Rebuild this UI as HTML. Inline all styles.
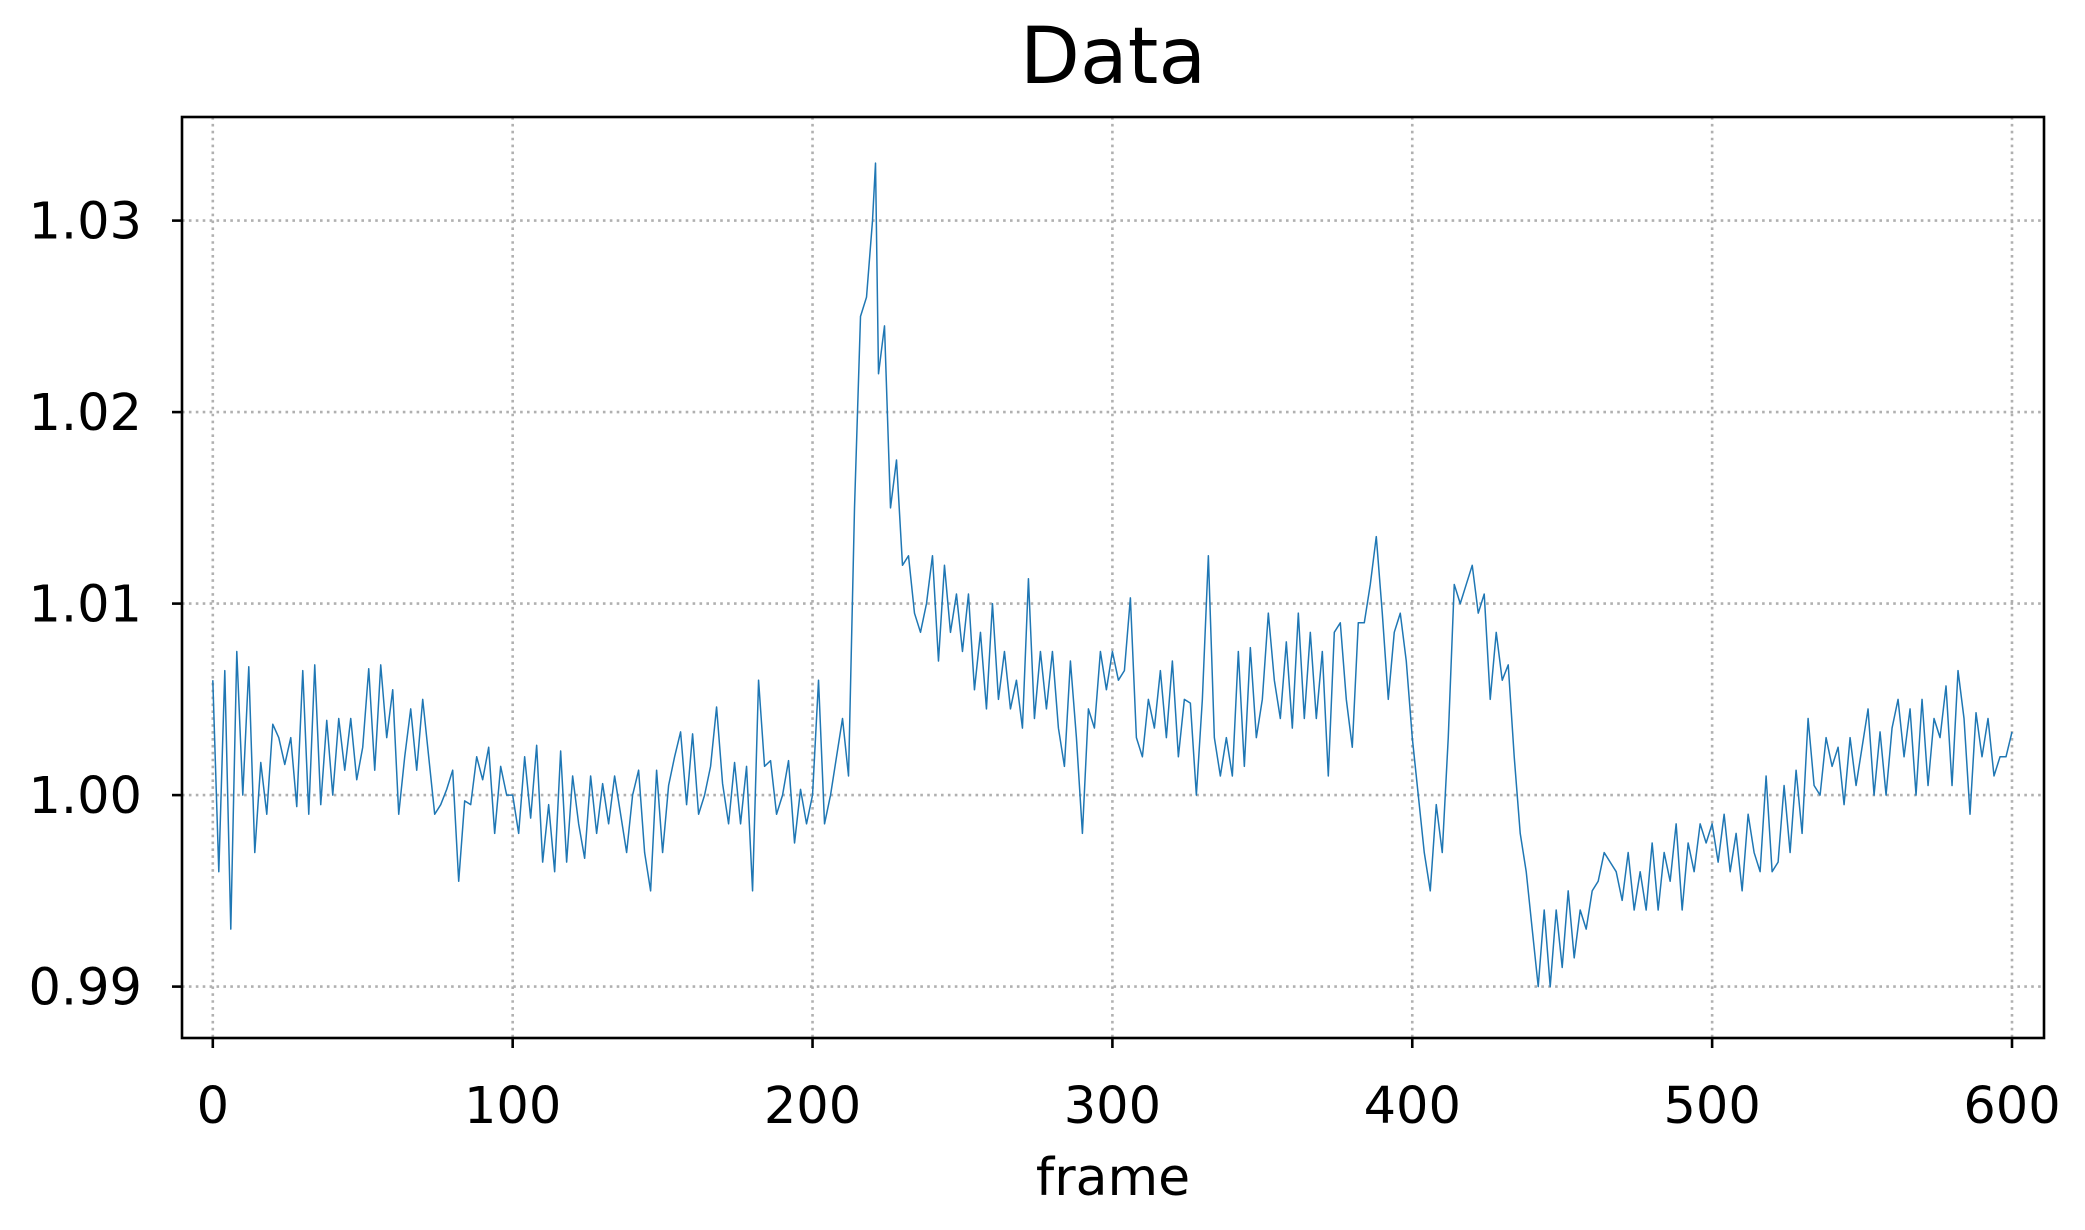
<!DOCTYPE html>
<html><head><meta charset="utf-8"><style>
html,body{margin:0;padding:0;background:#fff;}
svg{display:block;font-family:"DejaVu Sans","Liberation Sans",sans-serif;}
</style></head><body>
<svg id="chart" width="2085" height="1230" viewBox="0 0 2085 1230" xmlns="http://www.w3.org/2000/svg">
<rect width="2085" height="1230" fill="#fff"/>
<text x="1113" y="83" font-size="78" text-anchor="middle" fill="#000">Data</text>
<g id="grid"></g>
<g id="ticks"></g>
<path id="series" fill="none" stroke="#1f77b4" stroke-width="1.5" stroke-linejoin="round"/>
<rect x="182" y="117" width="1862" height="921" fill="none" stroke="#000" stroke-width="2.6"/>
<text x="1113" y="1195" font-size="52" text-anchor="middle" fill="#000">frame</text>
</svg>
<script>
const frames = [0,2,4,6,8,10,12,14,16,18,20,22,24,26,28,30,32,34,36,38,40,42,44,46,48,50,52,54,56,58,60,62,64,66,68,70,72,74,76,78,80,82,84,86,88,90,92,94,96,98,100,102,104,106,108,110,112,114,116,118,120,122,124,126,128,130,132,134,136,138,140,142,144,146,148,150,152,154,156,158,160,162,164,166,168,170,172,174,176,178,180,182,184,186,188,190,192,194,196,198,200,202,204,206,208,210,212,214,216,218,220,221,222,224,226,228,230,232,234,236,238,240,242,244,246,248,250,252,254,256,258,260,262,264,266,268,270,272,274,276,278,280,282,284,286,288,290,292,294,296,298,300,302,304,306,308,310,312,314,316,318,320,322,324,326,328,330,332,334,336,338,340,342,344,346,348,350,352,354,356,358,360,362,364,366,368,370,372,374,376,378,380,382,384,386,388,390,392,394,396,398,400,402,404,406,408,410,412,414,416,418,420,422,424,426,428,430,432,434,436,438,440,442,444,446,448,450,452,454,456,458,460,462,464,466,468,470,472,474,476,478,480,482,484,486,488,490,492,494,496,498,500,502,504,506,508,510,512,514,516,518,520,522,524,526,528,530,532,534,536,538,540,542,544,546,548,550,552,554,556,558,560,562,564,566,568,570,572,574,576,578,580,582,584,586,588,590,592,594,596,598,600];
const offsetsMilli = [6,-4,6.5,-7,7.5,0,6.7,-3,1.7,-1,3.7,3,1.6,3,-0.6,6.5,-1,6.8,-0.5,3.9,0,4,1.3,4,0.8,2.5,6.6,1.3,6.8,3,5.5,-1,2,4.5,1.3,5,2,-1,-0.5,0.3,1.3,-4.5,-0.3,-0.5,2,0.8,2.5,-2,1.5,0,0,-2,2,-1.2,2.6,-3.5,-0.5,-4,2.3,-3.5,1,-1.5,-3.3,1,-2,0.6,-1.5,1,-1,-3,0,1.3,-3,-5,1.3,-3,0.5,2,3.3,-0.5,3.2,-1,0,1.5,4.6,0.6,-1.5,1.7,-1.5,1.5,-5,6,1.5,1.8,-1,0,1.8,-2.5,0.3,-1.5,0,6,-1.5,0,2,4,1,15,25,26,30,33,22,24.5,15,17.5,12,12.5,9.5,8.5,10,12.5,7,12,8.5,10.5,7.5,10.5,5.5,8.5,4.5,10,5,7.5,4.5,6,3.5,11.3,4,7.5,4.5,7.5,3.5,1.5,7,3,-2,4.5,3.5,7.5,5.5,7.5,6,6.5,10.3,3,2,5,3.5,6.5,3,7,2,5,4.8,0,5,12.5,3,1,3,1,7.5,1.5,7.7,3,5,9.5,6,4,8,3.5,9.5,4,8.5,4,7.5,1,8.5,9,5,2.5,9,9,11,13.5,9.5,5,8.5,9.5,7,3,0,-3,-5,-0.5,-3,3,11,10,11,12,9.5,10.5,5,8.5,6,6.8,2,-2,-4,-7,-10,-6,-10,-6,-9,-5,-8.5,-6,-7,-5,-4.5,-3,-3.5,-4,-5.5,-3,-6,-4,-6,-2.5,-6,-3,-4.5,-1.5,-6,-2.5,-4,-1.5,-2.5,-1.5,-3.5,-1,-4,-2,-5,-1,-3,-4,1,-4,-3.5,0.5,-3,1.3,-2,4,0.5,0,3,1.5,2.5,-0.5,3,0.5,2.5,4.5,0,3.3,0,3.5,5,2,4.5,0,5,0.5,4,3,5.7,0.5,6.5,4,-1,4.3,2,4,1,2,2,3.3];
const xTicks = [0,100,200,300,400,500,600];
const yTicks = [0.99,1.00,1.01,1.02,1.03];
const yTickLabels = ["0.99","1.00","1.01","1.02","1.03"];

const NS = "http://www.w3.org/2000/svg";
function xs(f){ return 212.8 + f*(2012-212.8)/600; }
function ys(v){ return 986.6 - (v-0.99)*(986.6-220.6)/0.04; }

const grid = document.getElementById('grid');
const ticks = document.getElementById('ticks');
function mk(tag, attrs, parent){ const e=document.createElementNS(NS,tag); for(const k in attrs) e.setAttribute(k,attrs[k]); parent.appendChild(e); return e; }

xTicks.forEach(t=>{
  const x = xs(t);
  const g = mk('line',{x1:x,x2:x,y1:117,y2:1038,stroke:'#b0b0b0','stroke-width':2.6,'stroke-dasharray':'2.6 4.3'},grid);
  
  
  const tk = mk('line',{x1:x,x2:x,y1:1038,y2:1048,stroke:'#000','stroke-width':2.6},ticks);
  
  
  const tl = mk('text',{x:x,y:1123,'font-size':51,'text-anchor':'middle',fill:'#000'},ticks);
  tl.textContent = String(t);
  
  
});
yTicks.forEach((t,i)=>{
  const y = ys(t);
  const g = mk('line',{x1:182,x2:2044,y1:y,y2:y,stroke:'#b0b0b0','stroke-width':2.6,'stroke-dasharray':'2.6 4.3'},grid);
  
  
  const tk = mk('line',{x1:172,x2:182,y1:y,y2:y,stroke:'#000','stroke-width':2.6},ticks);
  
  
  const tl = mk('text',{x:142,y:y+18,'font-size':51,'text-anchor':'end',fill:'#000'},ticks);
  tl.textContent = yTickLabels[i];
  
  
});

let d = '';
frames.forEach((f,i)=>{
  const v = 1 + offsetsMilli[i]/1000;
  d += (i? 'L':'M') + xs(f).toFixed(2) + ' ' + ys(v).toFixed(2);
});
document.getElementById('series').setAttribute('d', d);
</script>
</body></html>
